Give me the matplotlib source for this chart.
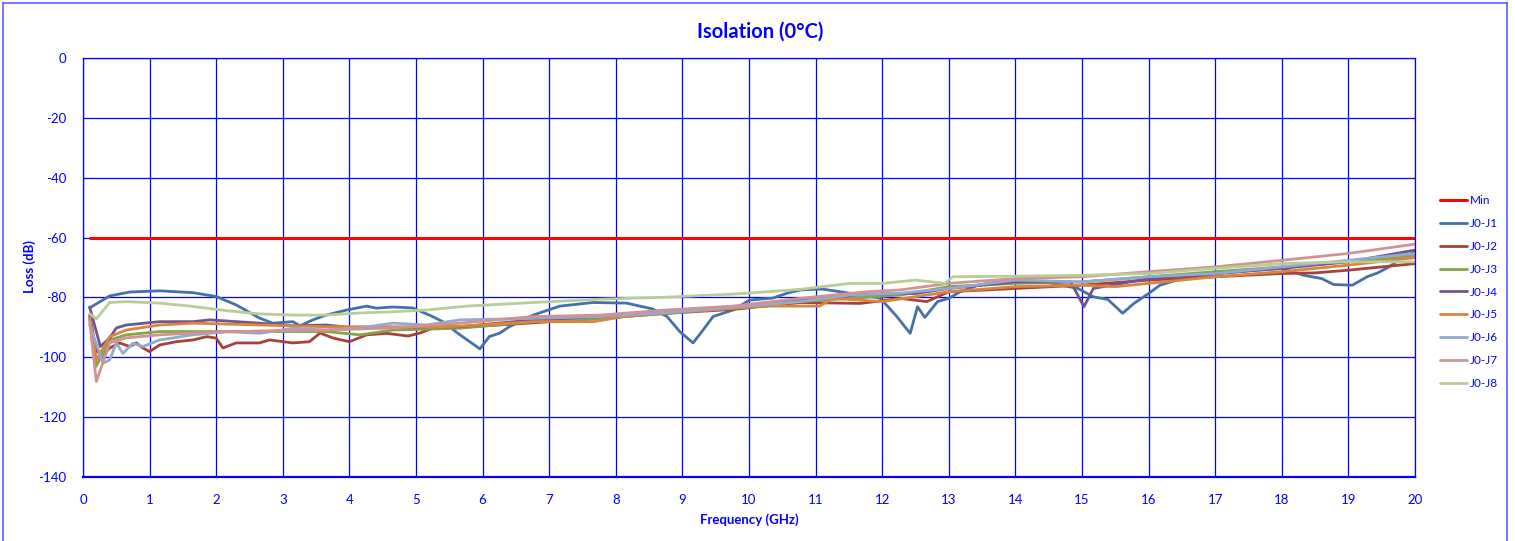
import matplotlib
matplotlib.use("Agg")
import matplotlib.pyplot as plt
from matplotlib.lines import Line2D

plt.rcParams['font.family'] = ['Lato', 'DejaVu Sans']
plt.rcParams['axes.unicode_minus'] = False

# frequency (GHz) / loss (dB), one pair per series
min_f = [0.1, 20]
min_db = [-60, -60]

j1_f = [0.1, 0.4, 0.7, 1.15, 1.65, 2.0, 2.3, 2.65, 2.85, 3.15, 3.26, 3.45, 3.65, 3.96, 4.26, 4.4, 4.65,
        4.95, 5.25, 5.4, 5.66, 5.96, 6.1, 6.26, 6.4, 6.76, 7.16, 7.66, 8.16, 8.56, 8.77, 8.96, 9.16,
        9.31, 9.46, 9.76, 10.01, 10.36, 10.57, 10.77, 11.1, 11.37, 11.97, 12.22, 12.42, 12.53, 12.64,
        12.83, 13.0, 13.17, 13.44, 13.9, 14.0, 14.44, 14.94, 15.17, 15.39, 15.61, 15.78, 16.0, 16.17,
        16.5, 17.06, 17.6, 18.0, 18.33, 18.6, 18.78, 19.06, 19.28, 19.44, 19.61, 19.83, 20.0]
j1_db = [-83.5, -79.5, -78.2, -77.8, -78.4, -79.7, -82.5, -86.9, -88.6, -88.1, -89.5, -87.5, -85.9,
         -84.2, -82.9, -83.6, -83.2, -83.5, -86.4, -88.1, -92.5, -97.2, -93.1, -91.9, -89.8, -85.9,
         -82.9, -81.7, -81.9, -83.9, -86.4, -91.4, -95.2, -90.9, -86.4, -84.2, -80.9, -80.2, -78.6,
         -77.5, -77.2, -78.1, -80.2, -86.4, -92.0, -83.1, -86.7, -81.4, -80.3, -78.1, -75.9, -74.2,
         -74.8, -74.8, -77.0, -79.8, -80.7, -85.3, -82.0, -78.7, -75.9, -73.7, -72.0, -70.9, -70.3,
         -72.6, -73.7, -75.7, -75.9, -73.1, -71.8, -69.8, -66.4, -64.8]

j2_f = [0.1, 0.2, 0.3, 0.4, 0.55, 0.7, 0.8, 0.9, 1.0, 1.15, 1.4, 1.65, 1.86, 2.0, 2.1, 2.3, 2.65, 2.8,
        3.15, 3.4, 3.56, 3.76, 4.0, 4.26, 4.56, 4.88, 5.06, 5.26, 5.76, 6.26, 7.01, 7.76, 8.77, 9.76,
        10.77, 11.67, 12.27, 12.67, 13.0, 14.0, 15.0, 16.0, 17.0, 18.0, 18.5, 19.0, 20.0]
j2_db = [-86.0, -98.0, -99.2, -96.9, -95.2, -96.4, -95.2, -96.9, -98.1, -95.9, -94.8, -94.2, -93.1,
         -93.6, -96.9, -95.2, -95.2, -94.2, -95.2, -94.8, -91.9, -93.6, -94.8, -92.5, -92.0, -92.9,
         -91.9, -90.2, -89.8, -89.2, -88.1, -87.0, -85.3, -84.0, -81.7, -82.0, -80.3, -81.4, -78.1,
         -77.0, -75.9, -74.2, -73.1, -72.0, -71.8, -70.9, -68.7]

j3_f = [0.1, 0.2, 0.4, 0.65, 1.15, 1.65, 2.65, 3.65, 4.16, 4.65, 5.66, 6.76, 7.76, 8.77, 9.76, 10.77,
        12.27, 13.0, 14.0, 15.0, 16.0, 17.0, 18.0, 19.0, 20.0]
j3_db = [-87.0, -103.0, -94.2, -92.5, -91.4, -91.4, -91.4, -91.4, -92.5, -90.9, -90.3, -88.1, -87.0,
         -85.3, -83.6, -81.4, -79.2, -76.4, -75.3, -74.8, -73.1, -71.4, -69.8, -68.1, -66.2]

j4_f = [0.1, 0.26, 0.4, 0.5, 0.65, 1.15, 1.65, 1.9, 2.65, 3.15, 3.65, 4.0, 4.65, 5.66, 6.76, 7.76,
        8.77, 9.76, 10.77, 11.77, 12.5, 13.0, 14.0, 14.83, 15.03, 15.17, 16.0, 17.0, 18.0, 19.0, 20.0]
j4_db = [-83.2, -96.4, -93.6, -90.2, -89.2, -88.1, -88.1, -87.5, -88.6, -89.5, -89.2, -90.0, -90.0,
         -89.8, -87.5, -86.4, -85.1, -83.3, -80.9, -78.9, -78.7, -77.0, -74.8, -74.8, -83.1, -77.0,
         -73.7, -72.0, -70.3, -68.1, -64.2]

j5_f = [0.1, 0.2, 0.4, 0.65, 1.15, 1.65, 2.65, 3.65, 4.65, 5.26, 5.76, 6.76, 7.66, 8.26, 9.26, 10.26,
        11.06, 11.26, 12.0, 13.0, 14.0, 15.0, 15.5, 16.0, 17.0, 18.0, 19.0, 20.0]
j5_db = [-86.9, -100.9, -93.1, -90.9, -89.2, -88.6, -89.2, -89.8, -89.8, -90.0, -89.5, -88.1, -88.1,
         -85.9, -84.4, -82.9, -82.9, -80.3, -81.4, -78.1, -76.4, -75.9, -76.4, -75.3, -73.1, -71.4,
         -69.2, -66.7]

j6_f = [0.1, 0.3, 0.4, 0.5, 0.6, 0.75, 0.9, 1.15, 1.65, 1.9, 2.15, 2.65, 3.15, 3.65, 4.16, 4.65, 5.16,
        5.66, 6.76, 7.76, 8.77, 9.76, 10.77, 11.52, 12.27, 13.0, 14.0, 15.0, 16.0, 17.0, 18.0, 19.0, 20.0]
j6_db = [-89.2, -102.0, -100.9, -95.3, -98.7, -95.3, -96.4, -94.2, -92.5, -92.0, -91.4, -92.0, -90.3,
         -90.9, -90.2, -88.6, -89.2, -87.5, -87.0, -86.4, -85.1, -83.3, -81.4, -79.2, -78.6, -77.0,
         -74.2, -74.8, -73.1, -72.0, -69.8, -67.6, -65.3]

j7_f = [0.1, 0.2, 0.4, 0.65, 1.15, 1.65, 2.65, 3.65, 4.65, 5.66, 6.76, 7.76, 8.77, 9.76, 10.77, 11.77,
        12.27, 13.0, 14.0, 15.0, 16.0, 17.0, 18.0, 19.0, 20.0]
j7_db = [-88.0, -108.1, -95.2, -93.5, -92.5, -91.9, -91.2, -90.9, -90.2, -88.6, -86.4, -85.9, -84.2,
         -82.9, -80.3, -78.1, -77.5, -75.3, -73.7, -73.1, -71.4, -69.8, -67.6, -65.3, -62.2]

j8_f = [0.1, 0.2, 0.4, 0.65, 1.15, 1.65, 2.15, 2.65, 3.15, 3.65, 4.16, 4.65, 5.16, 5.76, 6.76, 7.76,
        8.77, 9.76, 10.77, 11.52, 12.0, 12.5, 12.94, 13.06, 14.0, 15.0, 16.0, 17.0, 18.0, 19.0, 20.0]
j8_db = [-85.5, -87.2, -81.7, -81.4, -81.9, -83.0, -84.4, -85.5, -85.9, -85.9, -85.2, -84.8, -84.2,
         -82.9, -81.7, -80.6, -79.9, -78.9, -77.3, -75.3, -75.3, -74.2, -75.3, -73.1, -72.9, -72.6,
         -72.0, -70.3, -68.7, -68.1, -68.1]

labels = ['Min', 'J0-J1', 'J0-J2', 'J0-J3', 'J0-J4', 'J0-J5', 'J0-J6', 'J0-J7', 'J0-J8']
colors = ['#FF0000', '#4471A7', '#A8413C', '#86A44A', '#6F5590', '#DB843D', '#93A9CF', '#D19392', '#B9CD96']
series = [(min_f, min_db), (j1_f, j1_db), (j2_f, j2_db), (j3_f, j3_db), (j4_f, j4_db),
          (j5_f, j5_db), (j6_f, j6_db), (j7_f, j7_db), (j8_f, j8_db)]

blue = '#0000FF'
W, H = 1515, 541
fig = plt.figure(figsize=(W / 100, H / 100), dpi=100)
ax = fig.add_axes([83 / W, 1 - 477 / H, (1415 - 83) / W, (477 - 58) / H])

for (f, db), lab, col in zip(series, labels, colors):
    ax.plot(f, db, color=col, lw=2.2 if lab == 'Min' else 2.0, label=lab, solid_capstyle='round')

ax.set_xlim(0, 20)
ax.set_ylim(-140, 0)
ax.set_xticks(range(0, 21))
ax.set_yticks(range(-140, 1, 20))
ax.grid(True, color=blue, lw=0.9)
ax.set_axisbelow(True)
for s in ax.spines.values():
    s.set_color(blue)
    s.set_linewidth(0.9)
ax.spines['bottom'].set_linewidth(1.6)
ax.tick_params(length=0, colors=blue, labelsize=9.5)
ax.tick_params(axis='x', pad=12)
ax.tick_params(axis='y', pad=12)

ax.legend(loc='center left', bbox_to_anchor=(1.0188, 0.4415), frameon=False, fontsize=8.5,
          labelcolor=blue, handlelength=2.3, handletextpad=0.2, labelspacing=1.0, borderpad=0,
          borderaxespad=0)

fig.text(760 / W, 1 - 32 / H, 'Isolation (0°C)', ha='center', va='center', color=blue,
         fontsize=14.5, fontweight='bold')
fig.text(30 / W, 1 - 267 / H, 'Loss (dB)', ha='center', va='center', rotation=90, color=blue,
         fontsize=9.5, fontweight='bold')
fig.text(749 / W, 1 - 520 / H, 'Frequency (GHz)', ha='center', va='center', color=blue,
         fontsize=9.5, fontweight='bold')

# outer chart frame (no bottom edge visible in the reference)
frame_col = '#6060FF'
fig.add_artist(Line2D([3 / W, 3 / W], [0, 1 - 3 / H], color=frame_col, lw=1.2))
fig.add_artist(Line2D([3 / W, 1507 / W], [1 - 3 / H, 1 - 3 / H], color=frame_col, lw=1.2))
fig.add_artist(Line2D([1507 / W, 1507 / W], [0, 1 - 3 / H], color=frame_col, lw=1.2))

fig.savefig('out.png', dpi=100)
